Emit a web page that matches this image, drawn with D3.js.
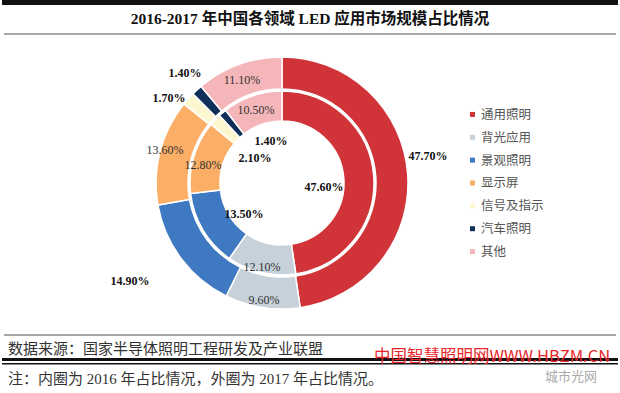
<!DOCTYPE html>
<html><head><meta charset="utf-8">
<script src="https://cdn.jsdelivr.net/npm/d3@7"></script>
<style>body{margin:0;background:#fff}svg{display:block}</style>
</head><body>
<svg id="c" width="620" height="393"></svg>
<script>
const categories = ["通用照明","背光应用","景观照明","显示屏","信号及指示","汽车照明","其他"];
const values2017 = [47.7, 9.6, 14.9, 13.6, 1.7, 1.4, 11.1];
const values2016 = [47.6, 12.1, 13.5, 12.8, 2.1, 1.4, 10.5];
const colors = ["#d13438","#c6d1d9","#3f79c1","#fbae66","#fdf7cf","#10305a","#f5b6b9"];
const title = "2016-2017 年中国各领域 LED 应用市场规模占比情况";
const source = "数据来源：国家半导体照明工程研发及产业联盟";
const note = "注：内圈为 2016 年占比情况，外圈为 2017 年占比情况。";

// label placement (polar: radius, angle in degrees clockwise from 12 o'clock), bold flag
const outerLab = [[148.5,79.5,1],[118.4,188.7,0],[180.9,237.2,1],[121.6,285.8,0],[141.4,306.9,1],[146.7,318.6,1],[110.5,338.8,0]];
const innerLab = [[42.2,95.4,1],[86.3,193.4,0],[49,230.8,1],[81,282.8,0],[36.8,312.8,1],[43.4,345.3,1],[77.5,340.4,0]];

const svg = d3.select("#c");
const cx = 282, cy = 183;
const serif = "'Liberation Serif','Times New Roman','Noto Sans CJK SC',serif";
const cjk = "'Noto Sans CJK SC',sans-serif";

// header
svg.append("rect").attr("x",2).attr("y",0).attr("width",616).attr("height",5).attr("fill","#111");
svg.append("text").attr("x",310).attr("y",24).attr("text-anchor","middle")
  .attr("font-family",serif).attr("font-weight","bold").attr("font-size",15.5).attr("fill","#111").text(title);
svg.append("line").attr("x1",4).attr("x2",616).attr("y1",34).attr("y2",34).attr("stroke","#8a8a8a").attr("stroke-width",1.5);

const pie = d3.pie().sort(null).value(d=>d);
const g = svg.append("g").attr("transform",`translate(${cx},${cy})`);
const arcOuter = d3.arc().innerRadius(94).outerRadius(126);
const arcInner = d3.arc().innerRadius(62).outerRadius(92);

g.selectAll("path.o").data(pie(values2017)).join("path").attr("class","o")
  .attr("d",arcOuter).attr("fill",(d,i)=>colors[i]).attr("stroke","#fff").attr("stroke-width",1.5);
g.selectAll("path.i").data(pie(values2016)).join("path").attr("class","i")
  .attr("d",arcInner).attr("fill",(d,i)=>colors[i]).attr("stroke","#fff").attr("stroke-width",1.5);

function labels(vals, lay){
  vals.forEach((v,i)=>{
    const [r,a,b] = lay[i];
    const t = a*Math.PI/180;
    g.append("text").attr("x",r*Math.sin(t)).attr("y",-r*Math.cos(t)).attr("dy","0.35em")
      .attr("text-anchor","middle").attr("font-family",serif).attr("font-size",12)
      .attr("font-weight",b?"bold":"normal").attr("fill",b?"#111":"#333")
      .text(v.toFixed(2)+"%");
  });
}
labels(values2017, outerLab);
labels(values2016, innerLab);

// legend
const ly = d3.scaleBand().domain(categories).range([103,263]);
const lg = svg.append("g");
categories.forEach((c,i)=>{
  const y = ly(c)+ly.bandwidth()/2;
  lg.append("rect").attr("x",470).attr("y",y-2.5).attr("width",5).attr("height",5).attr("fill",colors[i]);
  lg.append("text").attr("x",481).attr("y",y).attr("dy","0.35em").attr("font-family",cjk)
    .attr("font-size",12.5).attr("fill","#555").text(c);
});

// footer
svg.append("line").attr("x1",4).attr("x2",616).attr("y1",335).attr("y2",335).attr("stroke","#8a8a8a").attr("stroke-width",1.5);
svg.append("text").attr("x",8).attr("y",354).attr("font-family",serif).attr("font-size",15).attr("fill","#333").text(source);
svg.append("rect").attr("x",2).attr("y",358).attr("width",616).attr("height",3).attr("fill","#111");
svg.append("rect").attr("x",2).attr("y",363).attr("width",616).attr("height",1.5).attr("fill","#111");
svg.append("text").attr("x",8).attr("y",384).attr("font-family",serif).attr("font-size",15).attr("fill","#333").text(note);
svg.append("text").attr("x",374).attr("y",362).attr("font-family",cjk).attr("font-size",16.5).attr("fill","#e8262a").text("中国智慧照明网WWW.HBZM.CN");
svg.append("text").attr("x",545).attr("y",381).attr("font-family",cjk).attr("font-size",13).attr("fill","#aaa").text("城市光网");
</script>
</body></html>
